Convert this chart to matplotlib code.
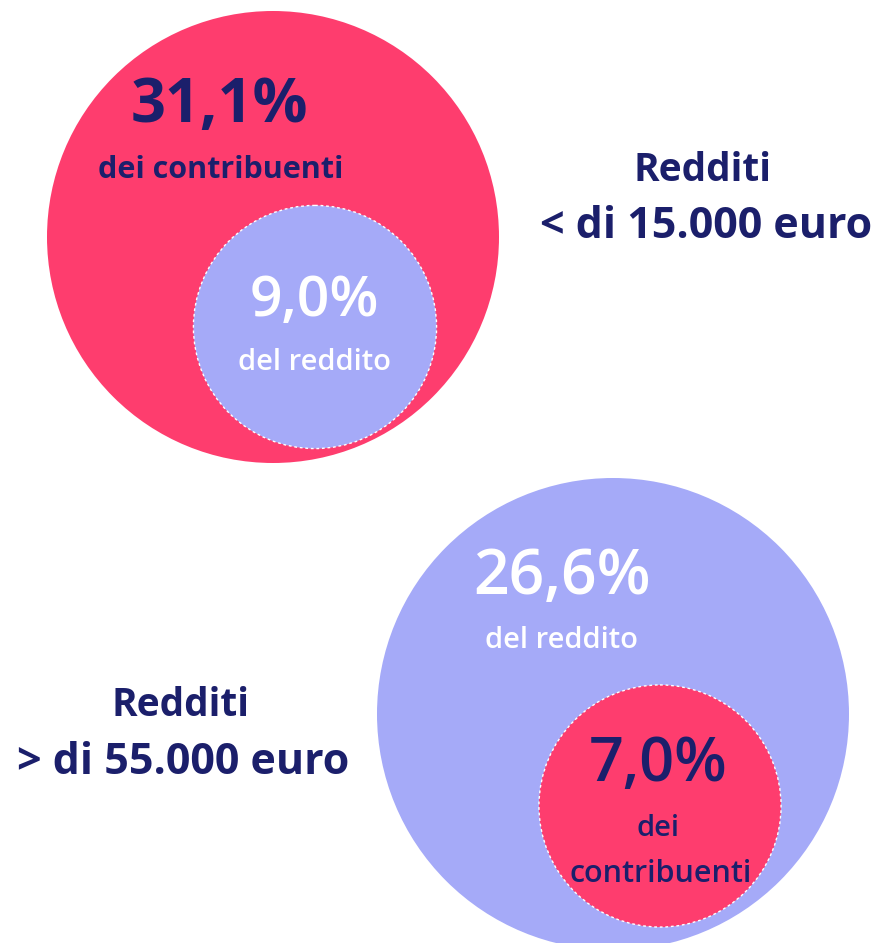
import numpy as np
import matplotlib
matplotlib.use("Agg")
import matplotlib.pyplot as plt
from matplotlib.patches import Circle

# shares (%) for the two income groups
groups = ["< di 15.000 euro", "> di 55.000 euro"]
taxpayers_pct = [31.1, 7.0]
income_pct = [9.0, 26.6]

PINK = "#fe3d6e"
LAVENDER = "#a5aaf8"
NAVY = "#1b1f6b"
FONT = "Open Sans"

W, H = 879, 943


def fmt(v):
    return f"{v:.1f}".replace(".", ",") + "%"


fig = plt.figure(figsize=(W / 100, H / 100), dpi=100)
ax = fig.add_axes([0, 0, 1, 1])
ax.set_xlim(0, W)
ax.set_ylim(H, 0)
ax.set_aspect("equal")
ax.axis("off")

# --- top group: taxpayers (outer, pink) contain income (inner, lavender)
outer_c, outer_r = (273, 237), 226
inner_r = outer_r * np.sqrt(income_pct[0] / taxpayers_pct[0])
inner_c = (315, 327)
ax.add_patch(Circle(outer_c, outer_r, color=PINK, lw=0))
ax.add_patch(Circle(inner_c, inner_r, facecolor=LAVENDER, edgecolor="white",
                    lw=1, ls=(0, (2, 2))))

ax.text(219, 106, fmt(taxpayers_pct[0]), color=NAVY, fontsize=44,
        fontweight="bold", family=FONT, ha="center", va="center")
ax.text(221, 170, "dei contribuenti", color=NAVY, fontsize=22,
        fontweight="bold", family=FONT, ha="center", va="center")
ax.text(314, 302, fmt(income_pct[0]), color="white", fontsize=41,
        fontweight="semibold", family=FONT, ha="center", va="center")
ax.text(315, 362, "del reddito", color="white", fontsize=21,
        fontweight="semibold", family=FONT, ha="center", va="center")

ax.text(703, 170, "Redditi", color=NAVY, fontsize=28,
        fontweight="bold", family=FONT, ha="center", va="center")
ax.text(706, 226, groups[0], color=NAVY, fontsize=31,
        fontweight="bold", family=FONT, ha="center", va="center")

# --- bottom group: income (outer, lavender) contains taxpayers (inner, pink)
outer_c, outer_r = (613, 714), 236
inner_r = outer_r * np.sqrt(taxpayers_pct[1] / income_pct[1])
inner_c = (660, 806)
ax.add_patch(Circle(outer_c, outer_r, color=LAVENDER, lw=0))
ax.add_patch(Circle(inner_c, inner_r, facecolor=PINK, edgecolor="white",
                    lw=1, ls=(0, (2, 2))))

ax.text(562, 578, fmt(income_pct[1]), color="white", fontsize=45,
        fontweight="semibold", family=FONT, ha="center", va="center")
ax.text(562, 641, "del reddito", color="white", fontsize=21,
        fontweight="semibold", family=FONT, ha="center", va="center")
ax.text(658, 765, fmt(taxpayers_pct[1]), color=NAVY, fontsize=44,
        fontweight="semibold", family=FONT, ha="center", va="center")
ax.text(658, 828, "dei", color=NAVY, fontsize=21,
        fontweight="semibold", family=FONT, ha="center", va="center")
ax.text(661, 874, "contribuenti", color=NAVY, fontsize=22,
        fontweight="semibold", family=FONT, ha="center", va="center")

ax.text(181, 706, "Redditi", color=NAVY, fontsize=28,
        fontweight="bold", family=FONT, ha="center", va="center")
ax.text(183, 763, groups[1], color=NAVY, fontsize=31,
        fontweight="bold", family=FONT, ha="center", va="center")

fig.savefig("out.png", dpi=100)
